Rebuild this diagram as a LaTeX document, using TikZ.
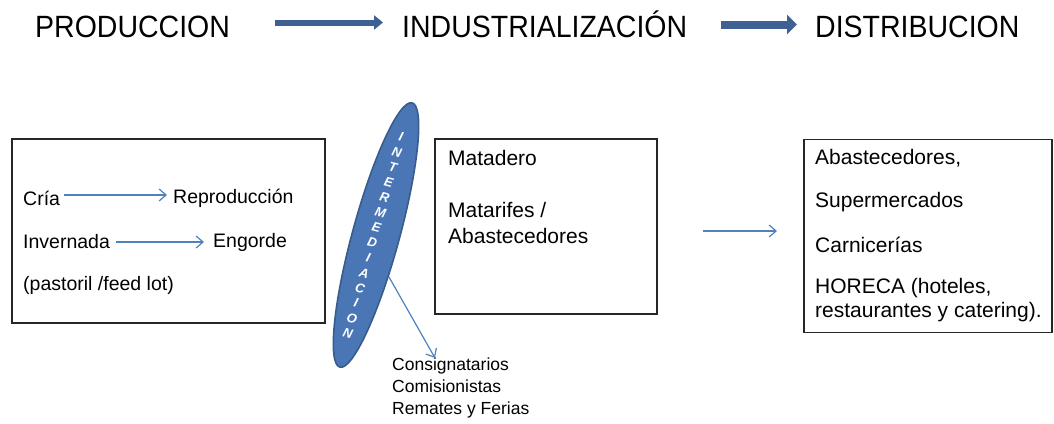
\documentclass[tikz,border=0pt]{standalone}
\usepackage{fontspec}
\setmainfont{Liberation Sans}
\usetikzlibrary{arrows.meta,shapes.geometric}
\definecolor{thinblue}{RGB}{79,129,189}
\definecolor{bigblue}{RGB}{62,96,147}
\definecolor{ellfill}{RGB}{74,118,182}
\definecolor{ellline}{RGB}{56,93,138}
\begin{document}
\begin{tikzpicture}[x=1pt,y=-1pt,
  head/.style={anchor=base west,inner sep=0pt,font=\fontsize{28.5}{32}\selectfont},
  txt/.style={anchor=west,inner sep=0pt,font=\fontsize{21}{25}\selectfont},
  ltxt/.style={anchor=west,inner sep=0pt,font=\fontsize{19.5}{23}\selectfont},
  stxt/.style={anchor=north west,inner sep=0pt,align=left,font=\fontsize{17.5}{22}\selectfont},
  boxx/.style={draw=black!85,line width=1.4pt,inner sep=0pt},
  thinarrow/.style={draw=thinblue,line width=1.2pt,-{Straight Barb[length=7pt,width=12pt,line width=1.2pt]}},
  bigarrow/.style={draw=bigblue,-{Triangle[length=9pt,width=14pt]}},
  ltr/.style={text=white,inner sep=0pt,rotate=-15,font=\fontsize{13}{15}\selectfont\bfseries\itshape}]
\useasboundingbox (0,0) rectangle (1054,423);
% headings
\node[head] (prod) at (35,37) {\scalebox{1}[1.08]{PRODUCCION}};
\node[head] (ind) at (402,37) {\scalebox{1}[1.08]{INDUSTRIALIZACIÓN}};
\node[head] (dist) at (815,37) {\scalebox{1}[1.08]{DISTRIBUCION}};
\coordinate (a1s) at (prod.east |- 0,22.5);
\coordinate (a1e) at (ind.west |- 0,22.5);
\coordinate (a2s) at (ind.east |- 0,24.5);
\coordinate (a2e) at (dist.west |- 0,24.5);
\draw[bigarrow,line width=6pt,shorten <=45pt,shorten >=19pt] (a1s) -- (a1e);
\draw[bigarrow,line width=8pt,shorten <=34pt,shorten >=18pt,-{Triangle[length=10pt,width=19pt]}] (a2s) -- (a2e);
% boxes
\node[boxx,minimum width=313pt,minimum height=184pt] (lbox) at (168.5,231) {};
\node[boxx,minimum width=222pt,minimum height=175pt] (mbox) at (546,226.5) {};
\node[boxx,minimum width=248pt,minimum height=193pt] (rbox) at (928,236) {};
% left box text
\node[ltxt] (cria) at (23,198) {Cría};
\node[ltxt] (repro) at (173,198) {Reproducción};
\node[ltxt] (inv) at (23,242) {Invernada};
\node[ltxt] (eng) at (213,242) {Engorde};
\node[ltxt] (past) at (23,285) {(pastoril /feed lot)};
\draw[thinarrow,shorten <=4pt,shorten >=6pt] ([yshift=3pt]cria.east) -- ([yshift=3pt]repro.west);
\draw[thinarrow,shorten <=6pt,shorten >=9pt] (inv.east) -- (eng.west);
% middle box text
\node[txt] (mat) at (448,158) {Matadero};
\node[txt] (matr) at (448,210) {Matarifes /};
\node[txt] (abas) at (448,236) {Abastecedores};
% right box text
\node[txt] (r1) at (815,158) {Abastecedores,};
\node[txt] (r2) at (815,202) {Supermercados};
\node[txt] (r3) at (815,245) {Carnicerías};
\node[txt] (r4) at (815,288) {HORECA (hoteles,};
\node[txt] (r5) at (815,312) {restaurantes y catering).};
% middle arrow
\coordinate (ma1) at (703,231);
\coordinate (ma2) at (777,231);
\draw[thinarrow] (ma1) -- (ma2);
% ellipse
\node[ellipse,draw=ellline,fill=ellfill,line width=1.6pt,minimum width=274pt,minimum height=47pt,rotate=74.7,inner sep=0pt] (ell) at (376,235) {};
\foreach \l [count=\i from 0] in {I,N,T,E,R,M,E,D,I,A,C,I,O,N}
  \node[ltr] (l\i) at ({401-4.1*\i},{137+15.1*\i}) {\l};
% intermediaries
\node[stxt] (cons) at (392,358) {Consignatarios\\Comisionistas\\Remates y Ferias};
\coordinate (es) at (389,277);
\coordinate (ee) at (435,358);
\draw[thinarrow] (es) -- (ee);
\end{tikzpicture}
\end{document}
